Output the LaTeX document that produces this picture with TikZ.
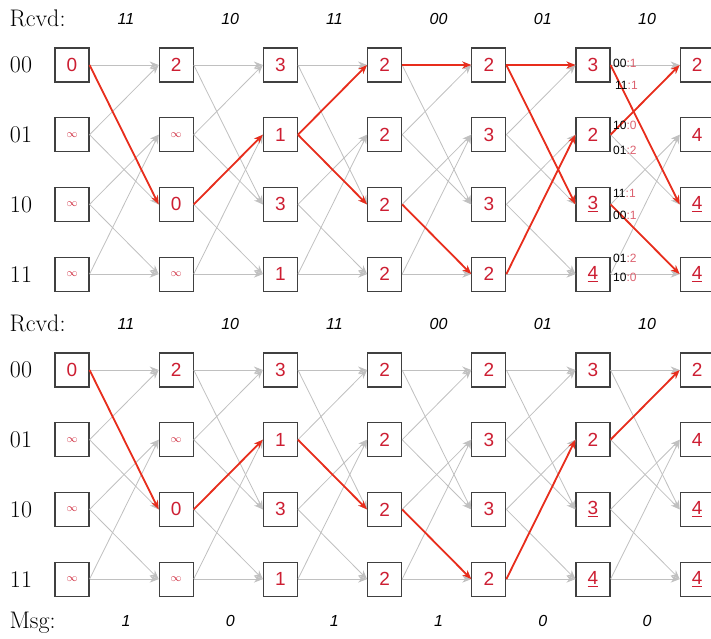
\documentclass[tikz,border=0pt]{standalone}
\usepackage{fontspec}
\newfontfamily\arial{Liberation Sans}
\usetikzlibrary{arrows.meta}
\definecolor{pathred}{RGB}{232,45,28}
\definecolor{numred}{RGB}{205,30,50}
\definecolor{edgegray}{RGB}{192,192,192}
\newcommand\nv{{\fontsize{11}{11}\selectfont$\infty$}}
\newcommand\ul[1]{\underline{#1}}

\begin{document}
\begin{tikzpicture}[x=1pt,y=-1pt,>={Stealth[length=9pt,width=7pt]},
 st/.style={draw=black!75,fill=white,line width=1.1pt,minimum width=34pt,minimum height=34pt,inner sep=0pt,
  font=\arial\fontsize{19}{19}\selectfont,text=numred},
 br/.style={draw=edgegray,line width=.8pt,->},
 hot/.style={draw=pathred,line width=1.8pt,->},
 lbl/.style={font=\fontsize{24}{24}\selectfont},
 bits/.style={font=\arial\itshape\fontsize{16}{16}\selectfont},
 metric/.style={anchor=west,inner sep=0pt,font=\arial\fontsize{12}{12}\selectfont}]
 \useasboundingbox (0,0) rectangle (711,638);
 % state boxes, top and bottom trellis
 \foreach \tr/\yo in {t/65,b/370}{
  \foreach \c/\va/\vb/\vc/\vd in {0/0/\nv/\nv/\nv,1/2/\nv/0/\nv,2/3/1/3/1,3/2/2/2/2,
   4/2/3/3/2,5/3/2/\ul{3}/\ul{4},6/2/4/\ul{4}/\ul{4}}{
   \node[st] (\tr-\c-0) at (72+104.2*\c,\yo) {\va};
   \node[st] (\tr-\c-1) at (72+104.2*\c,\yo+69.7) {\vb};
   \node[st] (\tr-\c-2) at (72+104.2*\c,\yo+139.4) {\vc};
   \node[st] (\tr-\c-3) at (72+104.2*\c,\yo+209.1) {\vd};
  }
  \foreach \s/\r in {0/00,1/01,2/10,3/11}
   \node[lbl] (\tr-lab-\s) at (21,\yo+69.7*\s) {\r};
  \foreach \rb [count=\i from 0] in {11,10,11,00,01,10}
   \node[bits] (\tr-rx-\i) at (126+104.2*\i,\yo-46) {\rb};
  \node[lbl,anchor=west] (\tr-rcvd) at (6,\yo-47) {Rcvd:};
 }
 % all branches
 \foreach \tr in {t,b}
  \foreach \c in {0,...,5}{
   \pgfmathtruncatemacro\nx{\c+1}
   \foreach \s/\u/\w in {0/0/2,1/0/2,2/1/3,3/1/3}{
    \draw[br] (\tr-\c-\s.east) -- (\tr-\nx-\u.west);
    \draw[br] (\tr-\c-\s.east) -- (\tr-\nx-\w.west);
   }
  }
 % surviving paths
 \foreach \a/\b in {0-0/1-2,1-2/2-1,2-1/3-0,2-1/3-2,3-0/4-0,3-2/4-3,4-0/5-0,4-0/5-2,
  4-3/5-1,5-0/6-2,5-1/6-0,5-2/6-3}
  \draw[hot] (t-\a.east) -- (t-\b.west);
 \foreach \a/\b in {0-0/1-2,1-2/2-1,2-1/3-2,3-2/4-3,4-3/5-1,5-1/6-0}
  \draw[hot] (b-\a.east) -- (b-\b.west);
 % branch metrics
 \foreach \x/\y/\o/\m [count=\k] in {613/63/00/1,615/85/11/1,613/125/10/0,613/150/01/2,
  613/193/11/1,613/215/00/1,613/258/01/2,613/277/10/0}
  \node[metric] (met-\k) at (\x,\y) {\o\textcolor{numred!70}{:\m}};
 % decoded message
 \node[lbl,anchor=west] (msg) at (6,623) {Msg:};
 \foreach \mb [count=\i from 0] in {1,0,1,1,0,0}
  \node[bits] (msg-\i) at (126+104.2*\i,621) {\mb};
\end{tikzpicture}
\end{document}
